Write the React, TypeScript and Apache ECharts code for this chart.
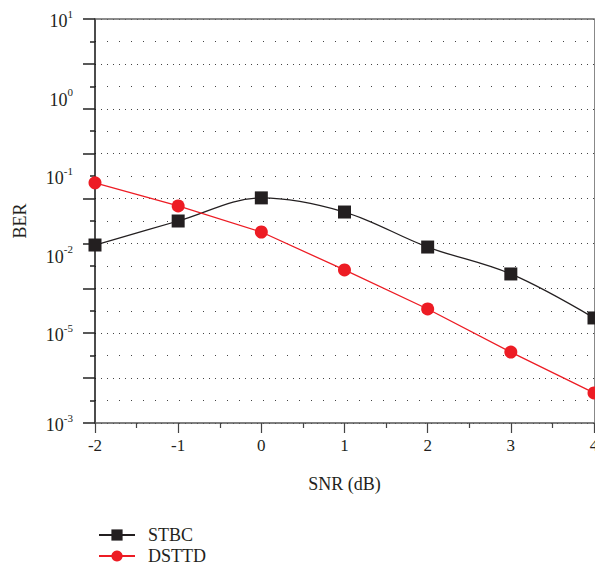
import React, { useEffect, useRef } from "react";
import * as echarts from "echarts";

// x categories (SNR in dB)
const snr = [-2, -1, 0, 1, 2, 3, 4];
// values expressed in the chart's own vertical axis units (0 = bottom, 18 = top)
const stbc = [7.93, 9.0, 10.03, 9.4, 7.84, 6.64, 4.68];
const dsttd = [10.7, 9.67, 8.51, 6.82, 5.08, 3.16, 1.34];
// BER tick labels placed on the vertical axis (position -> exponent)
const berLabelPos = [18, 14.5, 11, 7.5, 4, 0];
const berLabelExp = ["1", "0", "-1", "-2", "-5", "-3"];

const FONT = "'Liberation Serif', 'DejaVu Serif', serif";
const INK = "#231f20";

export default function App() {
  const ref = useRef<HTMLDivElement>(null);
  useEffect(() => {
    if (!ref.current) return;
    const chart = echarts.init(ref.current, undefined, { renderer: "svg" });
    const labelMap: Record<string, string> = {};
    berLabelPos.forEach((p, i) => {
      labelMap[p.toFixed(1)] = berLabelExp[i];
    });
    chart.setOption({
      animation: false,
      backgroundColor: "#ffffff",
      grid: {
        left: 95,
        right: 1,
        top: 19,
        bottom: 148,
        containLabel: false,
        outerBoundsMode: "none",
      },
      legend: {
        orient: "vertical",
        left: 93,
        top: 521,
        itemWidth: 36,
        itemHeight: 14,
        itemGap: 3,
        textStyle: { fontFamily: FONT, fontSize: 18, color: INK, padding: [0, 0, 0, 8] },
        data: ["STBC", "DSTTD"],
      },
      xAxis: [
        {
          type: "value",
          min: -2,
          max: 4,
          interval: 1,
          name: "SNR (dB)",
          nameLocation: "middle",
          nameGap: 52,
          nameTextStyle: { fontFamily: FONT, fontSize: 18, color: INK },
          axisLine: { show: true, onZero: false, lineStyle: { color: "#555", width: 1.5 } },
          axisTick: { show: true, length: 10, lineStyle: { color: "#444", width: 1.2 } },
          minorTick: { show: true, splitNumber: 2, length: 5, lineStyle: { color: "#444", width: 1.2 } },
          axisLabel: { fontFamily: FONT, fontSize: 17, color: INK, margin: 14, hideOverlap: false },
          splitLine: { show: false },
        },
        {
          type: "value",
          position: "top",
          min: -2,
          max: 4,
          axisLine: { show: true, onZero: false, lineStyle: { color: "#666", width: 1.5 } },
          axisTick: { show: false },
          axisLabel: { show: false },
          splitLine: { show: false },
        },
      ],
      yAxis: [
        {
          type: "value",
          min: 0,
          max: 18,
          interval: 2,
          name: "BER",
          nameLocation: "middle",
          nameGap: 66,
          nameTextStyle: { fontFamily: FONT, fontSize: 18, color: INK },
          axisLine: { show: true, onZero: false, lineStyle: { color: "#111", width: 1.5 } },
          axisTick: { show: true, length: 12, lineStyle: { color: "#222", width: 1.5 } },
          minorTick: { show: true, splitNumber: 2, length: 5, lineStyle: { color: "#222", width: 1.5 } },
          axisLabel: { show: false },
          splitLine: { show: true, lineStyle: { color: "#444", width: 1, type: [1, 5] } },
          minorSplitLine: { show: true, lineStyle: { color: "#444", width: 1, type: [1, 11] } },
        },
        {
          type: "value",
          min: 0,
          max: 18,
          interval: 0.5,
          position: "left",
          axisLine: { show: false },
          axisTick: { show: false },
          splitLine: { show: false },
          axisLabel: {
            show: true,
            margin: 22,
            formatter: (v: number) => {
              const e = labelMap[v.toFixed(1)];
              return e === undefined ? "" : `{b|10}{s|${e}}`;
            },
            rich: {
              b: { fontFamily: FONT, fontSize: 18, color: INK, lineHeight: 22, verticalAlign: "bottom" },
              s: { fontFamily: FONT, fontSize: 11, color: INK, lineHeight: 22, verticalAlign: "top" },
            },
          },
        },
        {
          type: "value",
          min: 0,
          max: 18,
          position: "right",
          axisLine: { show: true, onZero: false, lineStyle: { color: "#888", width: 1 } },
          axisTick: { show: false },
          axisLabel: { show: false },
          splitLine: { show: false },
        },
      ],
      series: [
        {
          name: "STBC",
          type: "line",
          smooth: 0.35,
          data: snr.map((x, i) => [x, stbc[i]]),
          symbol: "rect",
          symbolSize: 13,
          itemStyle: { color: INK },
          lineStyle: { color: INK, width: 1.3 },
          clip: false,
          z: 3,
        },
        {
          name: "DSTTD",
          type: "line",
          data: snr.map((x, i) => [x, dsttd[i]]),
          symbol: "circle",
          symbolSize: 13,
          itemStyle: { color: "#ed1c24" },
          lineStyle: { color: "#ed1c24", width: 1.3 },
          clip: false,
          z: 4,
        },
      ],
    });
    return () => chart.dispose();
  }, []);
  return (
    <div
      ref={ref}
      style={{ position: "fixed", left: 0, top: 0, width: 595, height: 571, background: "#fff" }}
    />
  );
}
